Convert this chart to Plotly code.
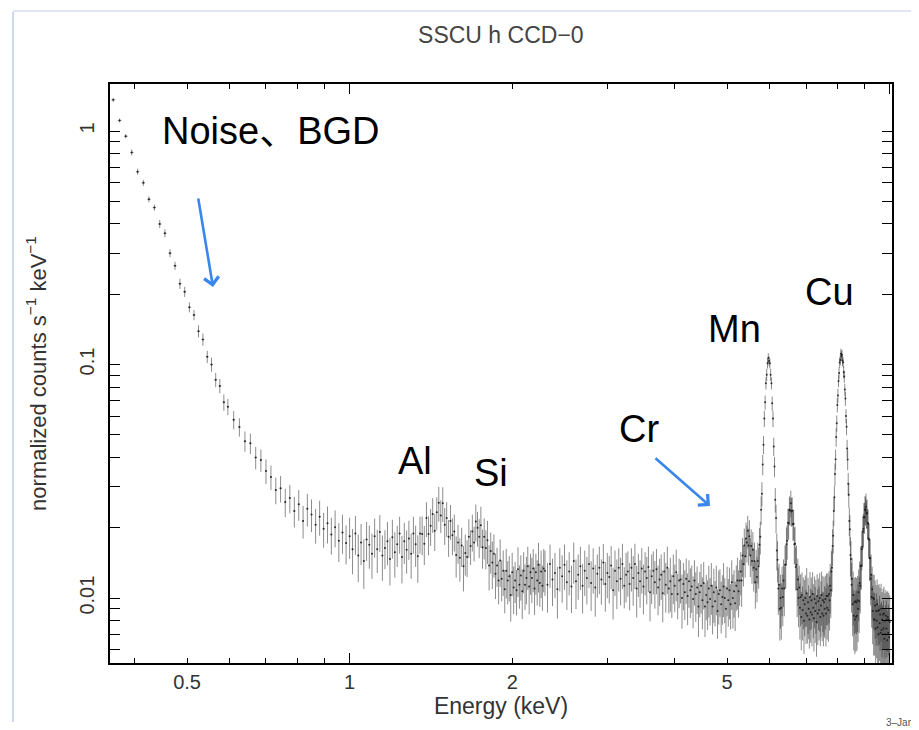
import plotly.graph_objects as go

# ---------------- data ----------------
energy_low = [
    0.365, 0.375, 0.385, 0.395, 0.405, 0.415, 0.425, 0.435, 0.445, 0.455,
    0.465, 0.475, 0.485, 0.495, 0.505, 0.515, 0.525, 0.535, 0.545, 0.555,
    0.565, 0.575, 0.585, 0.595,
    0.610, 0.625, 0.640, 0.655, 0.670, 0.685, 0.700, 0.715, 0.730, 0.745,
    0.760, 0.775, 0.790, 0.805, 0.820, 0.835, 0.850, 0.865, 0.880, 0.895,
    0.910, 0.925, 0.940, 0.955, 0.970, 0.985,
]
rate_low = [
    1.36, 1.11, 0.95, 0.81, 0.67, 0.60, 0.51, 0.47, 0.40, 0.365,
    0.30, 0.265, 0.222, 0.205, 0.176, 0.163, 0.139, 0.128, 0.108, 0.100,
    0.086, 0.081, 0.069, 0.066,
    0.058, 0.054, 0.047, 0.046, 0.040, 0.039, 0.035, 0.033, 0.029, 0.0295,
    0.0258, 0.0268, 0.0236, 0.0252, 0.0214, 0.0241, 0.0228, 0.0206, 0.0223, 0.0198,
    0.0209, 0.0187, 0.0201, 0.0176, 0.0191, 0.0172,
]
err_pct_low = [
    2, 2, 2, 3, 3, 3, 3, 3, 4, 4, 4, 4, 5, 5, 5, 5, 6, 6, 6, 7, 7, 7, 8, 8,
    9, 9, 10, 10, 11, 11, 12, 12, 13, 13, 14, 14, 15, 15, 16, 16, 16, 17, 17, 17,
    18, 18, 18, 19, 19, 19,
]

energy_al_si = [
    1.0000, 1.0125, 1.0250, 1.0375, 1.0500, 1.0625, 1.0750, 1.0875,
    1.1000, 1.1125, 1.1250, 1.1375, 1.1500, 1.1625, 1.1750, 1.1875,
    1.2000, 1.2125, 1.2250, 1.2375, 1.2500, 1.2625, 1.2750, 1.2875,
    1.3000, 1.3125, 1.3250, 1.3375, 1.3500, 1.3625, 1.3750, 1.3875,
    1.4000, 1.4125, 1.4250, 1.4375, 1.4500, 1.4625, 1.4750, 1.4875,
    1.5000, 1.5125, 1.5250, 1.5375, 1.5500, 1.5625, 1.5750, 1.5875,
    1.6000, 1.6125, 1.6250, 1.6375, 1.6500, 1.6625, 1.6750, 1.6875,
    1.7000, 1.7125, 1.7250, 1.7375, 1.7500, 1.7625, 1.7750, 1.7875,
    1.8000, 1.8125, 1.8250, 1.8375, 1.8500, 1.8625, 1.8750, 1.8875,
    1.9000, 1.9125, 1.9250, 1.9375, 1.9500, 1.9625, 1.9750, 1.9875,
    2.0000, 2.0125, 2.0250, 2.0375, 2.0500, 2.0625, 2.0750, 2.0875,
    2.1000, 2.1125, 2.1250, 2.1375, 2.1500, 2.1625, 2.1750, 2.1875,
    2.2000, 2.2125, 2.2250, 2.2375, 2.2500, 2.2625, 2.2750, 2.2875,
]
rate_al_si = [
    0.0184, 0.0162, 0.0189, 0.0152, 0.0173, 0.0144, 0.0178, 0.0169,
    0.0155, 0.0184, 0.0162, 0.0192, 0.0152, 0.0164, 0.0175, 0.0147,
    0.0182, 0.0157, 0.0170, 0.0189, 0.0150, 0.0175, 0.0161, 0.0180,
    0.0155, 0.0189, 0.0170, 0.0151, 0.0189, 0.0188, 0.0171, 0.0220,
    0.0188, 0.0204, 0.0229, 0.0194, 0.0233, 0.0256, 0.0226, 0.0255,
    0.0206, 0.0220, 0.0183, 0.0214, 0.0186, 0.0193, 0.0153, 0.0173,
    0.0149, 0.0168, 0.0137, 0.0156, 0.0150, 0.0183, 0.0167, 0.0193,
    0.0173, 0.0213, 0.0200, 0.0183, 0.0205, 0.0165, 0.0183, 0.0164,
    0.0177, 0.0138, 0.0159, 0.0142, 0.0155, 0.0127, 0.0138, 0.0119,
    0.0145, 0.0121, 0.0131, 0.0109, 0.0131, 0.0119, 0.0124, 0.0103,
    0.0129, 0.0111, 0.0119, 0.0108, 0.0133, 0.0114, 0.0125, 0.0107,
    0.0131, 0.0114, 0.0122, 0.0137, 0.0112, 0.0129, 0.0122, 0.0134,
    0.0110, 0.0129, 0.0119, 0.0139, 0.0116, 0.0130, 0.0113, 0.0134,
]
err_pct_al_si = [
    20, 22, 19, 23, 20, 24, 19, 21, 22, 19, 21, 18, 22, 19, 21, 23, 19, 22, 20, 18,
    23, 20, 21, 19, 22, 18, 20, 23, 18, 19, 19, 17, 19, 18, 17, 18, 16, 17, 16, 17,
    18, 17, 18, 17, 18, 18, 20, 19, 21, 19, 22, 20, 18, 19, 17, 18, 17, 18, 17, 19,
    20, 19, 20, 19, 21, 22, 20, 23, 21, 22, 19, 21, 23, 20, 22, 21, 24, 21, 22, 23,
    21, 23, 20, 22, 24, 21, 22, 24, 20, 22, 23, 21, 24, 20, 22, 21, 23, 20, 22, 24,
    21, 23, 22, 21,
]

energy_cont = [
    2.300, 2.325, 2.350, 2.375, 2.400, 2.425, 2.450, 2.475,
    2.500, 2.525, 2.550, 2.575, 2.600, 2.625, 2.650, 2.675,
    2.700, 2.725, 2.750, 2.775, 2.800, 2.825, 2.850, 2.875,
    2.900, 2.925, 2.950, 2.975, 3.000, 3.025, 3.050, 3.075,
    3.100, 3.125, 3.150, 3.175, 3.200, 3.225, 3.250, 3.275,
    3.300, 3.325, 3.350, 3.375, 3.400, 3.425, 3.450, 3.475,
    3.500, 3.525, 3.550, 3.575, 3.600, 3.625, 3.650, 3.675,
    3.700, 3.725, 3.750, 3.775, 3.800, 3.825, 3.850, 3.875,
    3.900, 3.925, 3.950, 3.975, 4.000, 4.025, 4.050, 4.075,
    4.100, 4.125, 4.150, 4.175, 4.200, 4.225, 4.250, 4.275,
    4.300, 4.325, 4.350, 4.375, 4.400, 4.425, 4.450, 4.475,
    4.500, 4.525, 4.550, 4.575, 4.600, 4.625, 4.650, 4.675,
    4.700, 4.725, 4.750, 4.775, 4.800, 4.825, 4.850, 4.875,
    4.900, 4.925, 4.950, 4.975, 5.000, 5.025, 5.050, 5.075,
    5.100, 5.125, 5.150, 5.175, 5.200, 5.225, 5.250, 5.275,
]
rate_cont = [
    0.0131, 0.0114, 0.0140, 0.0120, 0.0128, 0.0109, 0.0135, 0.0124,
    0.0139, 0.0117, 0.0130, 0.0112, 0.0144, 0.0118, 0.0126, 0.0137,
    0.0113, 0.0131, 0.0122, 0.0140, 0.0116, 0.0134, 0.0111, 0.0127,
    0.0135, 0.0120, 0.0142, 0.0115, 0.0128, 0.0123, 0.0138, 0.0108,
    0.0131, 0.0118, 0.0135, 0.0121, 0.0140, 0.0113, 0.0126, 0.0130,
    0.0115, 0.0135, 0.0122, 0.0140, 0.0110, 0.0128, 0.0118, 0.0134,
    0.0112, 0.0130, 0.0122, 0.0136, 0.0106, 0.0124, 0.0131, 0.0117,
    0.0133, 0.0111, 0.0120, 0.0126, 0.0105, 0.0130, 0.0114, 0.0135,
    0.0110, 0.0118, 0.0104, 0.0124, 0.0113, 0.0129, 0.0104, 0.0119,
    0.0120, 0.0100, 0.0115, 0.0106, 0.0121, 0.0102, 0.0118, 0.0108,
    0.0112, 0.0099, 0.0119, 0.0104, 0.0111, 0.0092, 0.0106, 0.0113,
    0.0098, 0.0116, 0.0092, 0.0103, 0.0096, 0.0110, 0.0099, 0.0113,
    0.0092, 0.0106, 0.0097, 0.0111, 0.0088, 0.0104, 0.0108, 0.0094,
    0.0101, 0.0112, 0.0100, 0.0090, 0.0110, 0.0098, 0.0108, 0.0094,
    0.0117, 0.0100, 0.0107, 0.0095, 0.0113, 0.0119, 0.0107, 0.0119,
]
err_pct_cont = [
    22, 24, 21, 23, 22, 25, 21, 23, 22, 24, 21, 23, 20, 24, 22, 21, 24, 22, 23, 21,
    24, 22, 25, 21, 23, 22, 20, 24, 22, 23, 21, 25, 22, 24, 21, 23, 22, 20, 24, 22,
    23, 21, 24, 22, 25, 21, 23, 22, 24, 21, 23, 22, 25, 24, 21, 23, 22, 24, 23, 22,
    25, 21, 24, 23, 22, 26, 21, 24, 23, 25, 22, 24, 21, 26, 23, 24, 22, 25, 23, 24,
    23, 25, 22, 24, 23, 26, 22, 24, 25, 23, 26, 22, 24, 25, 23, 25, 24, 26, 22, 24,
    24, 26, 23, 25, 24, 26, 22, 25, 24, 23, 25, 22, 24, 26, 23, 24, 22, 25, 23, 22,
]

energy_lines = [
    5.30, 5.32, 5.34, 5.36, 5.38, 5.40, 5.42, 5.44, 5.46, 5.48,
    5.50, 5.52, 5.54, 5.56, 5.58, 5.60, 5.62, 5.64, 5.66, 5.68,
    5.70, 5.72, 5.74, 5.76, 5.78, 5.80, 5.82, 5.84, 5.86, 5.88,
    5.90, 5.92, 5.94, 5.96, 5.98, 6.00, 6.02, 6.04, 6.06, 6.08,
    6.10, 6.12, 6.14, 6.16, 6.18, 6.20, 6.22, 6.24, 6.26, 6.28,
    6.30, 6.32, 6.34, 6.36, 6.38, 6.40, 6.42, 6.44, 6.46, 6.48,
    6.50, 6.52, 6.54, 6.56, 6.58, 6.60, 6.62, 6.64, 6.66, 6.68,
    6.70, 6.72, 6.74, 6.76, 6.78, 6.80, 6.82, 6.84, 6.86, 6.88,
    6.90, 6.92, 6.94, 6.96, 6.98, 7.00, 7.02, 7.04, 7.06, 7.08,
    7.10, 7.12, 7.14, 7.16, 7.18, 7.20, 7.22, 7.24, 7.26, 7.28,
    7.30, 7.32, 7.34, 7.36, 7.38, 7.40, 7.42, 7.44, 7.46, 7.48,
    7.50, 7.52, 7.54, 7.56, 7.58, 7.60, 7.62, 7.64, 7.66, 7.68,
    7.70, 7.72, 7.74, 7.76, 7.78, 7.80, 7.82, 7.84, 7.86, 7.88,
    7.90, 7.92, 7.94, 7.96, 7.98, 8.00, 8.02, 8.04, 8.06, 8.08,
    8.10, 8.12, 8.14, 8.16, 8.18, 8.20, 8.22, 8.24, 8.26, 8.28,
    8.30, 8.32, 8.34, 8.36, 8.38, 8.40, 8.42, 8.44, 8.46, 8.48,
    8.50, 8.52, 8.54, 8.56, 8.58, 8.60, 8.62, 8.64, 8.66, 8.68,
    8.70, 8.72, 8.74, 8.76, 8.78, 8.80, 8.82, 8.84, 8.86, 8.88,
    8.90, 8.92, 8.94, 8.96, 8.98, 9.00, 9.02, 9.04, 9.06, 9.08,
    9.10, 9.12, 9.14, 9.16, 9.18, 9.20, 9.22, 9.24, 9.26, 9.28,
    9.30, 9.32, 9.34, 9.36, 9.38, 9.40, 9.42, 9.44, 9.46, 9.48,
    9.50, 9.52, 9.54, 9.56, 9.58, 9.60, 9.62, 9.64, 9.66, 9.68,
    9.70, 9.72, 9.74, 9.76, 9.78, 9.80, 9.82, 9.84, 9.86, 9.88,
    9.90, 9.92, 9.94, 9.96, 9.98, 10.00,
]
rate_lines = [
    0.0130, 0.0119, 0.0152, 0.0140, 0.0168, 0.0151, 0.0180, 0.0173, 0.0194, 0.0168,
    0.0184, 0.0152, 0.0167, 0.0144, 0.0161, 0.0135, 0.0144, 0.0117, 0.0133, 0.0123,
    0.0144, 0.0137, 0.0169, 0.0183, 0.0239, 0.0280, 0.0373, 0.0454, 0.0587, 0.0689,
    0.0832, 0.0904, 0.1012, 0.1066, 0.1035, 0.1012, 0.0904, 0.0832, 0.0682, 0.0587,
    0.0446, 0.0366, 0.0264, 0.0220, 0.0160, 0.0146, 0.0110, 0.0114, 0.0090, 0.0100,
    0.0091, 0.0110, 0.0101, 0.0119, 0.0110, 0.0139, 0.0139, 0.0170, 0.0176, 0.0210,
    0.0209, 0.0239, 0.0237, 0.0255, 0.0235, 0.0237, 0.0207, 0.0208, 0.0170, 0.0171,
    0.0136, 0.0139, 0.0109, 0.0120, 0.0100, 0.0111, 0.0091, 0.0101, 0.0083, 0.0103,
    0.0089, 0.0098, 0.0080, 0.0094, 0.0100, 0.0086, 0.0105, 0.0084, 0.0096, 0.0090,
    0.0081, 0.0101, 0.0087, 0.0098, 0.0085, 0.0104, 0.0091, 0.0082, 0.0099, 0.0088,
    0.0095, 0.0079, 0.0102, 0.0086, 0.0097, 0.0089, 0.0100, 0.0083, 0.0093, 0.0103,
    0.0086, 0.0098, 0.0084, 0.0096, 0.0090, 0.0099, 0.0086, 0.0102, 0.0091, 0.0102,
    0.0089, 0.0104, 0.0098, 0.0113, 0.0108, 0.0130, 0.0135, 0.0167, 0.0185, 0.0236,
    0.0270, 0.0340, 0.0393, 0.0489, 0.0560, 0.0671, 0.0737, 0.0851, 0.0919, 0.1020,
    0.1045, 0.1112, 0.1089, 0.1101, 0.1038, 0.1021, 0.0928, 0.0889, 0.0781, 0.0715,
    0.0602, 0.0541, 0.0437, 0.0392, 0.0309, 0.0277, 0.0214, 0.0197, 0.0153, 0.0147,
    0.0114, 0.0121, 0.0094, 0.0103, 0.0084, 0.0096, 0.0081, 0.0097, 0.0083, 0.0096,
    0.0084, 0.0098, 0.0090, 0.0106, 0.0097, 0.0116, 0.0113, 0.0137, 0.0138, 0.0162,
    0.0166, 0.0193, 0.0198, 0.0222, 0.0222, 0.0240, 0.0237, 0.0246, 0.0230, 0.0232,
    0.0210, 0.0208, 0.0180, 0.0178, 0.0148, 0.0149, 0.0121, 0.0126, 0.0101, 0.0109,
    0.0088, 0.0100, 0.0081, 0.0099, 0.0081, 0.0093, 0.0074, 0.0088, 0.0080, 0.0094,
    0.0075, 0.0088, 0.0070, 0.0089, 0.0078, 0.0085, 0.0071, 0.0090, 0.0073, 0.0081,
    0.0070, 0.0085, 0.0074, 0.0086, 0.0067, 0.0080, 0.0070, 0.0084, 0.0074, 0.0081,
    0.0066, 0.0083, 0.0071, 0.0081, 0.0068, 0.0079,
]
err_pct_lines = [
    21, 23, 19, 20, 18, 19, 17, 18, 16, 18,
    17, 19, 18, 20, 19, 21, 20, 23, 21, 22,
    20, 20, 18, 16, 14, 12, 10, 9, 8, 7,
    6, 6, 5, 5, 5, 5, 6, 6, 7, 8,
    9, 10, 12, 14, 18, 20, 23, 23, 27, 26,
    27, 24, 25, 23, 24, 21, 21, 18, 17, 15,
    15, 14, 14, 13, 14, 14, 15, 15, 18, 18,
    21, 21, 24, 23, 25, 24, 27, 25, 28, 25,
    26, 25, 28, 27, 25, 26, 28, 24, 27, 26,
    25, 28, 26, 25, 27, 24, 26, 28, 25, 27,
    26, 29, 24, 27, 25, 26, 28, 25, 27, 26,
    24, 27, 26, 28, 25, 26, 28, 25, 27, 25,
    27, 25, 26, 24, 24, 22, 21, 18, 16, 14,
    12, 11, 10, 9, 8, 7, 7, 6, 6, 5,
    5, 5, 5, 5, 5, 5, 6, 6, 6, 7,
    7, 8, 9, 10, 11, 12, 14, 15, 19, 19,
    24, 23, 27, 26, 29, 27, 29, 27, 29, 27,
    29, 27, 28, 25, 27, 24, 24, 21, 21, 19,
    18, 16, 16, 15, 15, 14, 14, 14, 14, 14,
    15, 15, 17, 17, 20, 20, 23, 22, 26, 25,
    28, 26, 30, 27, 30, 28, 32, 29, 31, 28,
    32, 29, 33, 29, 31, 30, 33, 28, 32, 31,
    33, 29, 32, 30, 34, 31, 33, 29, 32, 31,
    34, 29, 32, 30, 33, 30,
]

x_tick_vals = [0.5, 1, 2, 5]
x_tick_text = ["0.5", "1", "2", "5"]
x_minor_vals = [0.4, 0.6, 0.7, 0.8, 0.9, 3, 4, 6, 7, 8, 9]
y_tick_vals = [0.01, 0.1, 1]
y_tick_text = ["0.01", "0.1", "1"]
y_minor_vals = [0.006, 0.007, 0.008, 0.009,
                0.02, 0.03, 0.04, 0.05, 0.06, 0.07, 0.08, 0.09,
                0.2, 0.3, 0.4, 0.5, 0.6, 0.7, 0.8, 0.9]
line_labels = ["Al", "Si", "Cr", "Mn", "Cu"]

# ---------------- assemble ----------------
energy_kev = energy_low + energy_al_si + energy_cont + energy_lines
counts_rate = rate_low + rate_al_si + rate_cont + rate_lines
error_pct = err_pct_low + err_pct_al_si + err_pct_cont + err_pct_lines
assert len(energy_kev) == len(counts_rate) == len(error_pct), (
    len(energy_kev), len(counts_rate), len(error_pct))
err = [r * p / 100.0 for r, p in zip(counts_rate, error_pct)]

FONT = "Liberation Sans, Arial, Helvetica, sans-serif"
XR = [-0.4437, 1.0043]
YR = [-2.278, 0.2014]

fig = go.Figure()
fig.add_trace(go.Scatter(
    x=energy_kev, y=counts_rate, mode="markers",
    marker=dict(size=2, color="rgba(25,25,25,0.85)"),
    error_y=dict(type="data", array=err, visible=True, thickness=1, width=0,
                 color="rgba(45,45,45,0.55)"),
    error_x=dict(type="constant", value=0.003, visible=True, thickness=1, width=0,
                 color="rgba(45,45,45,0.55)"),
    showlegend=False, hoverinfo="x+y",
))
# invisible helper on the overlay axis that carries the long decade ticks
fig.add_trace(go.Scatter(x=[1], y=[0.1], xaxis="x2", mode="markers",
                         marker=dict(size=0.1, opacity=0), showlegend=False,
                         hoverinfo="skip"))

# the page body has an 8 px margin: plot area lands at x 110-892, y 84-663
fig.update_layout(
    width=911, height=722,
    margin=dict(l=102, r=27, t=76, b=67),
    paper_bgcolor="white", plot_bgcolor="white",
    font=dict(family=FONT, color="#333"),
    title=dict(text="SSCU h CCD\u22120", x=0.541, xanchor="center", y=0.9626,
               yanchor="middle", font=dict(size=23, color="#444", family=FONT)),
    xaxis=dict(
        type="log", range=XR, tickmode="array", tickvals=x_tick_vals,
        ticktext=x_tick_text, ticks="inside", ticklen=5, tickwidth=1.3,
        tickcolor="black", showline=True, linecolor="black", linewidth=1.6,
        mirror="allticks", showgrid=False, zeroline=False,
        tickfont=dict(size=20, color="#333"),
        minor=dict(tickvals=x_minor_vals, ticks="inside", ticklen=5,
                   tickwidth=1.3, tickcolor="black", showgrid=False),
        title=dict(text="Energy (keV)", font=dict(size=23, color="#333"),
                   standoff=4),
    ),
    xaxis2=dict(
        type="log", range=XR, overlaying="x", anchor="y", side="bottom",
        tickmode="array", tickvals=[1, 10], ticks="inside", ticklen=10,
        tickwidth=1.3, tickcolor="black", showticklabels=False,
        mirror="allticks", showline=False, showgrid=False, zeroline=False,
    ),
    yaxis=dict(
        type="log", range=YR, tickmode="array", tickvals=y_tick_vals,
        ticktext=y_tick_text, ticks="inside", ticklen=10, tickwidth=1.3,
        tickcolor="black", tickangle=-90, showline=True, linecolor="black",
        linewidth=1.6, mirror="allticks", showgrid=False, zeroline=False,
        tickfont=dict(size=20, color="#333"), ticklabelstandoff=6,
        minor=dict(tickvals=y_minor_vals, ticks="inside", ticklen=5,
                   tickwidth=1.3, tickcolor="black", showgrid=False),
        title=dict(text="normalized counts s<sup>\u22121</sup> keV<sup>\u22121</sup>",
                   font=dict(size=22, color="#333"), standoff=24),
    ),
)

# annotation helpers: window pixel -> paper fraction
def px(xp):
    return (xp - 110) / 782.0


def py(yp):
    return (663 - yp) / 579.0


label_font = dict(size=38, color="black", family=FONT)
fig.add_annotation(text="Noise\u3001BGD", x=px(160), y=py(131), xref="paper",
                   yref="paper", xanchor="left", yanchor="middle",
                   showarrow=False,
                   font=dict(size=38, color="black",
                             family="Liberation Sans, Arial, Noto Sans CJK JP"))
label_pos = [(415, 461), (491, 473), (639, 429), (734, 329), (829, 292)]
for name, (lx, ly) in zip(line_labels, label_pos):
    fig.add_annotation(text=name, x=px(lx), y=py(ly), xref="paper", yref="paper",
                       xanchor="center", yanchor="middle", showarrow=False,
                       font=label_font)

arrow_col = "#3a86ef"
fig.add_annotation(x=px(213), y=py(287), xref="paper", yref="paper", text="",
                   showarrow=True, ax=-15, ay=-90, arrowhead=4, arrowsize=1.1,
                   arrowwidth=2.6, arrowcolor=arrow_col)
fig.add_annotation(x=px(710), y=py(506), xref="paper", yref="paper", text="",
                   showarrow=True, ax=-56, ay=-49, arrowhead=4, arrowsize=1.1,
                   arrowwidth=2.6, arrowcolor=arrow_col)

fig.add_annotation(text="3\u2013Jan", x=px(884), y=py(722), xref="paper",
                   yref="paper", xanchor="left", yanchor="middle",
                   showarrow=False, font=dict(size=10, color="#555"))

fig.add_shape(type="line", xref="paper", yref="paper", x0=px(13), x1=px(13),
              y0=py(12), y1=py(722), line=dict(color="#cfd8ee", width=2))
fig.add_shape(type="line", xref="paper", yref="paper", x0=px(13), x1=px(911),
              y0=py(11), y1=py(11), line=dict(color="#dfe5f3", width=2))

fig.write_html("out.html")
